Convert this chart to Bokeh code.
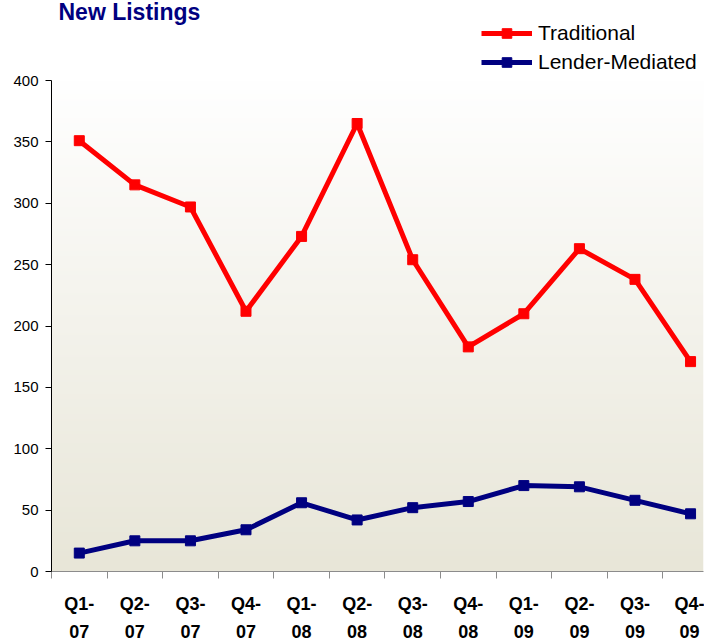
import numpy as np
from bokeh.plotting import figure
from bokeh.models import (Range1d, FixedTicker, Label, Legend, LegendItem)
from bokeh.embed import file_html
from bokeh.resources import INLINE

quarters = ["Q1-\n07", "Q2-\n07", "Q3-\n07", "Q4-\n07",
            "Q1-\n08", "Q2-\n08", "Q3-\n08", "Q4-\n08",
            "Q1-\n09", "Q2-\n09", "Q3-\n09", "Q4-\n09"]
traditional = [351, 315, 297, 212, 273, 365, 254, 183, 210, 263, 238, 171]
lender_mediated = [15, 25, 25, 34, 56, 42, 52, 57, 70, 69, 58, 47]
y_ticks = [0, 50, 100, 150, 200, 250, 300, 350, 400]

n = len(quarters)
xs = [i + 0.5 for i in range(n)]
boundaries = list(range(n + 1))

X_END = 11.733
Y_END = 465.2

p = figure(frame_width=652, frame_height=571, output_backend="svg", toolbar_location=None,
           x_range=Range1d(0, X_END), y_range=Range1d(0, Y_END),
           min_border_left=51, min_border_right=1, min_border_top=0,
           min_border_bottom=60)
p.background_fill_color = "white"
p.border_fill_color = "white"
p.outline_line_color = None
p.xgrid.visible = False
p.ygrid.visible = False

# gradient background of plot area (0..400)
N = 200
top = np.array([255, 255, 255])
bot = np.array([232, 230, 216])
img = np.zeros((N, 1), dtype=np.uint32)
view = img.view(dtype=np.uint8).reshape((N, 1, 4))
for k in range(N):
    t = k / (N - 1)
    c = bot + (top - bot) * t
    view[k, 0, 0] = int(c[0]); view[k, 0, 1] = int(c[1]); view[k, 0, 2] = int(c[2]); view[k, 0, 3] = 255
p.image_rgba(image=[img], x=0, y=0, dw=X_END, dh=400)

r1 = p.line(xs, traditional, line_color="#FF0000", line_width=5)
m1 = p.scatter(xs, traditional, marker="square", size=10, fill_color="#FF0000", line_color="#FF0000")
r2 = p.line(xs, lender_mediated, line_color="#000080", line_width=5)
m2 = p.scatter(xs, lender_mediated, marker="square", size=10, fill_color="#000080", line_color="#000080")

# axes
xa = p.xaxis[0]
xa.ticker = FixedTicker(ticks=xs, minor_ticks=boundaries)
xa.major_label_overrides = {x: q for x, q in zip(xs, quarters)}
xa.major_tick_out = 0
xa.major_tick_in = 0
xa.minor_tick_out = 7
xa.minor_tick_in = 0
xa.minor_tick_line_color = "#8c8c8c"
xa.minor_tick_line_width = 1
xa.axis_line_color = "#8c8c8c"
xa.axis_line_width = 1
xa.major_label_text_font = "Liberation Sans"
xa.major_label_text_font_style = "bold"
xa.major_label_text_font_size = "18px"
xa.major_label_text_color = "black"
xa.major_label_text_line_height = 1.4
xa.major_label_standoff = 15

ya = p.yaxis[0]
ya.ticker = FixedTicker(ticks=y_ticks)
ya.bounds = (0, 400)
ya.major_tick_out = 6
ya.major_tick_in = 0
ya.minor_tick_out = 0
ya.minor_tick_in = 0
ya.axis_line_color = "black"
ya.major_tick_line_color = "black"
ya.major_label_text_font = "Liberation Sans"
ya.major_label_text_font_size = "15px"
ya.major_label_text_color = "black"
ya.major_label_standoff = 7

title = Label(x=7, y=560, x_units="screen", y_units="screen", text="New Listings",
              text_font="Liberation Sans", text_font_style="bold", text_baseline="alphabetic",
              text_font_size="23px", text_color="#000080")
p.add_layout(title)

legend = Legend(items=[LegendItem(label="Traditional", renderers=[r1, m1]),
                       LegendItem(label="Lender-Mediated", renderers=[r2, m2])],
                location=(430, 497), orientation="vertical")
legend.background_fill_alpha = 0
legend.border_line_alpha = 0
legend.glyph_width = 51
legend.glyph_height = 24
legend.label_standoff = 6
legend.spacing = 5
legend.padding = 0
legend.margin = 0
legend.label_text_font = "Liberation Sans"
legend.label_text_font_size = "21px"
legend.label_text_color = "black"
p.add_layout(legend)

open("out.html", "w").write(file_html(p, INLINE))
